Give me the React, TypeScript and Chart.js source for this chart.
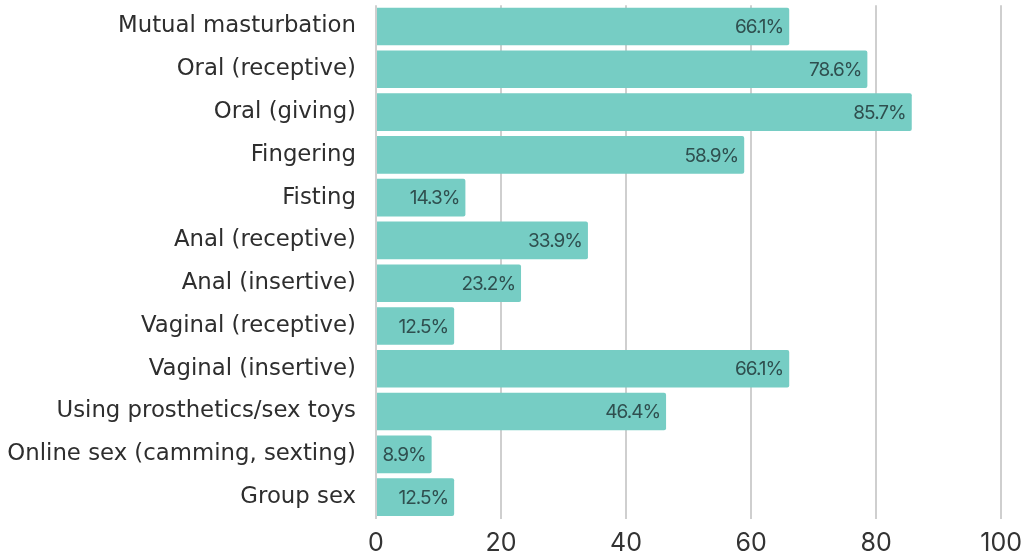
import React, { useEffect, useRef } from "react";
import { Chart, registerables } from "chart.js";

Chart.register(...registerables);

const categories = [
  "Mutual masturbation",
  "Oral (receptive)",
  "Oral (giving)",
  "Fingering",
  "Fisting",
  "Anal (receptive)",
  "Anal (insertive)",
  "Vaginal (receptive)",
  "Vaginal (insertive)",
  "Using prosthetics/sex toys",
  "Online sex (camming, sexting)",
  "Group sex",
];
const values = [66.1, 78.6, 85.7, 58.9, 14.3, 33.9, 23.2, 12.5, 66.1, 46.4, 8.9, 12.5];
const xTicks = [0, 20, 40, 60, 80, 100];

const FONT = "Inter, 'DejaVu Sans', sans-serif";
const LABEL_FONT = "'DejaVu Sans', sans-serif";
const CLEAR = "rgba(0,0,0,0)";

const valueLabels = {
  id: "valueLabels",
  afterDatasetsDraw(chart: any) {
    const ctx = chart.ctx;
    const meta = chart.getDatasetMeta(0);
    ctx.save();
    ctx.font = `19px ${FONT}`;
    (ctx as any).letterSpacing = "-1px";
    ctx.fillStyle = "#2f4f4f";
    ctx.textAlign = "right";
    ctx.textBaseline = "middle";
    meta.data.forEach((bar: any, i: number) => {
      ctx.fillText(values[i].toFixed(1) + "%", bar.x - 6, bar.y + 1);
    });
    ctx.restore();
  },
};

export default function App() {
  const ref = useRef<HTMLCanvasElement>(null);
  useEffect(() => {
    if (!ref.current) return;
    const chart = new Chart(ref.current, {
      type: "bar",
      data: {
        labels: categories,
        datasets: [
          {
            data: values,
            backgroundColor: "#76cdc4",
            borderRadius: 2,
            barPercentage: 0.88,
            categoryPercentage: 1,
          },
        ],
      },
      options: {
        indexAxis: "y",
        animation: false,
        responsive: false,
        maintainAspectRatio: false,
        layout: { padding: { top: 0, right: 0, bottom: 0, left: 0 } },
        plugins: { legend: { display: false }, tooltip: { enabled: false } },
        scales: {
          x: {
            min: 0,
            max: 100,
            afterBuildTicks: (axis: any) => {
              axis.ticks = xTicks.map((v) => ({ value: v }));
            },
            grid: { color: "#cfcfcf", lineWidth: 2, drawTicks: true, tickLength: 9.5, tickColor: CLEAR },
            border: { display: false },
            ticks: { color: "#333", font: { family: FONT, size: 25, lineHeight: 1.0 }, padding: 3 },
          },
          y: {
            afterFit: (axis: any) => {
              axis.width = 376;
            },
            grid: { display: true, drawOnChartArea: false, drawTicks: true, tickLength: 20, tickColor: CLEAR, color: CLEAR },
            border: { display: false },
            ticks: { color: "#2e2e2e", font: { family: LABEL_FONT, size: 22.8, lineHeight: 0.45 }, padding: 0 },
          },
        },
      },
      plugins: [valueLabels],
    });
    return () => chart.destroy();
  }, []);
  return (
    <div style={{ position: "absolute", left: 0, top: 0, width: 1025, height: 559, background: "#fff" }}>
      <canvas ref={ref} width={1025} height={559} />
    </div>
  );
}
